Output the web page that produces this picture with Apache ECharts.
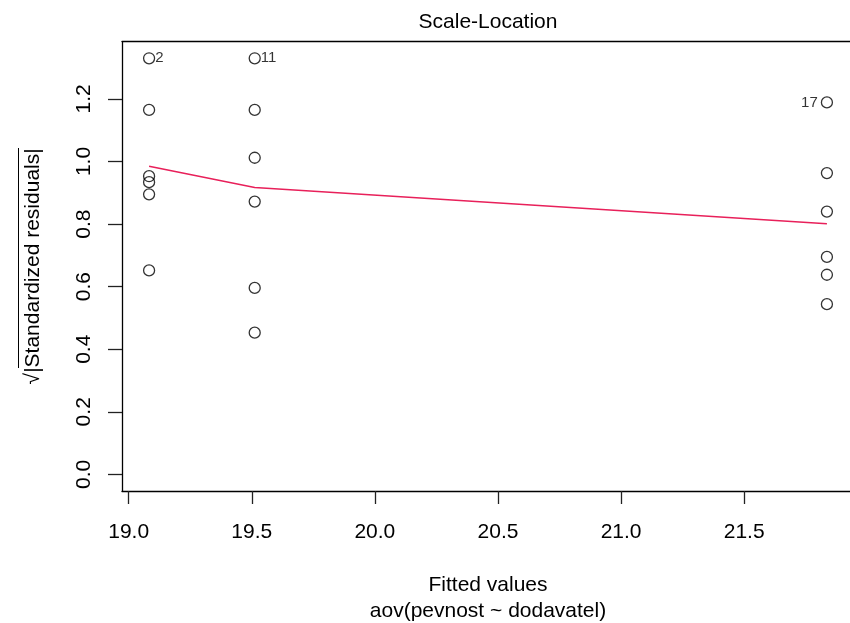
<!DOCTYPE html>
<html>
<head>
<meta charset="utf-8">
<script src="https://cdn.jsdelivr.net/npm/echarts@6/dist/echarts.min.js"></script>
<style>html,body{margin:0;padding:0;background:#fff;}#c{width:850px;height:623px;}</style>
</head>
<body>
<div id="c"></div>
<script>
// Fitted values (x) and sqrt(|standardized residuals|) (y)
const fittedX = [19.083, 19.083, 19.083, 19.083, 19.083, 19.083,
                 19.512, 19.512, 19.512, 19.512, 19.512, 19.512,
                 21.836, 21.836, 21.836, 21.836, 21.836, 21.836];
const sqrtStdRes = [1.330, 1.165, 0.953, 0.934, 0.895, 0.652,
                    1.330, 1.165, 1.012, 0.872, 0.596, 0.453,
                    1.189, 0.963, 0.840, 0.695, 0.638, 0.544];
const pointLabels = ['2', '', '', '', '', '',
                     '11', '', '', '', '', '',
                     '17', '', '', '', '', ''];
const labelSide = ['right', '', '', '', '', '',
                   'right', '', '', '', '', '',
                   'left', '', '', '', '', ''];
// smoother (red line)
const smoothX = [19.083, 19.512, 21.836];
const smoothY = [0.985, 0.917, 0.801];
// tick values
const xTicks = [19.0, 19.5, 20.0, 20.5, 21.0, 21.5];
const yTicks = [0.0, 0.2, 0.4, 0.6, 0.8, 1.0, 1.2];

const FONT = "'Liberation Sans', Arial, Helvetica, sans-serif";

const scatterData = fittedX.map((x, i) => {
  const item = { value: [x, sqrtStdRes[i]] };
  if (pointLabels[i]) {
    item.label = {
      show: true,
      formatter: pointLabels[i],
      position: labelSide[i],
      distance: labelSide[i] === 'left' ? 3 : 0,
      color: '#000',
      fontFamily: FONT,
      fontSize: 15
    };
  }
  return item;
});

const chart = echarts.init(document.getElementById('c'), null, { renderer: 'canvas' });
chart.setOption({
  backgroundColor: '#fff',
  animation: false,
  grid: {
    left: 122, top: 41.7, bottom: 132, right: -4,
    containLabel: false, outerBoundsMode: 'none',
    show: false
  },
  graphic: [
    {
      type: 'text', x: 488, y: 22,
      style: { text: 'Scale-Location', font: '21px ' + FONT, fill: '#000', textAlign: 'center', textVerticalAlign: 'middle' }
    },
    {
      type: 'line', shape: { x1: 18.5, y1: 148, x2: 18.5, y2: 368 },
      style: { stroke: '#000', lineWidth: 1 }
    }
  ],
  xAxis: [{
    type: 'value', min: 18.973, max: 21.946, position: 'bottom',
    axisLine: { show: true, onZero: false, lineStyle: { color: '#000', width: 1.3 } },
    splitLine: { show: false },
    axisTick: { show: true, length: 13, customValues: xTicks, lineStyle: { color: '#222', width: 1.3 } },
    axisLabel: {
      customValues: xTicks, formatter: v => v.toFixed(1), margin: 31,
      color: '#000', fontFamily: FONT, fontSize: 21
    },
    name: 'Fitted values\naov(pevnost ~ dodavatel)',
    nameLocation: 'middle', nameGap: 81,
    nameTextStyle: { color: '#000', fontFamily: FONT, fontSize: 21, lineHeight: 26 }
  }, {
    type: 'value', min: 18.973, max: 21.946, position: 'top',
    axisLine: { show: true, onZero: false, lineStyle: { color: '#000', width: 1.3 } },
    splitLine: { show: false }, axisTick: { show: false }, axisLabel: { show: false }
  }],
  yAxis: {
    type: 'value', min: -0.0532, max: 1.383,
    axisLine: { show: true, onZero: false, lineStyle: { color: '#000', width: 1.3 } },
    splitLine: { show: false },
    axisTick: { show: true, length: 14, customValues: yTicks, lineStyle: { color: '#222', width: 1.3 } },
    axisLabel: {
      customValues: yTicks, formatter: v => v.toFixed(1), rotate: 90, margin: 27,
      color: '#000', fontFamily: FONT, fontSize: 21
    },
    name: '\u221A|Standardized residuals|',
    nameLocation: 'middle', nameGap: 78,
    nameTextStyle: { color: '#000', fontFamily: FONT, fontSize: 21 }
  },
  series: [
    {
      type: 'scatter',
      data: scatterData,
      symbol: 'circle',
      symbolSize: 11,
      itemStyle: { color: 'transparent', borderColor: '#000', borderWidth: 1.3 },
      emphasis: { disabled: true },
      z: 3
    },
    {
      type: 'line',
      data: smoothX.map((x, i) => [x, smoothY[i]]),
      showSymbol: false,
      lineStyle: { color: '#E8205A', width: 1.5 },
      emphasis: { disabled: true },
      z: 2
    }
  ]
});
</script>
</body>
</html>
